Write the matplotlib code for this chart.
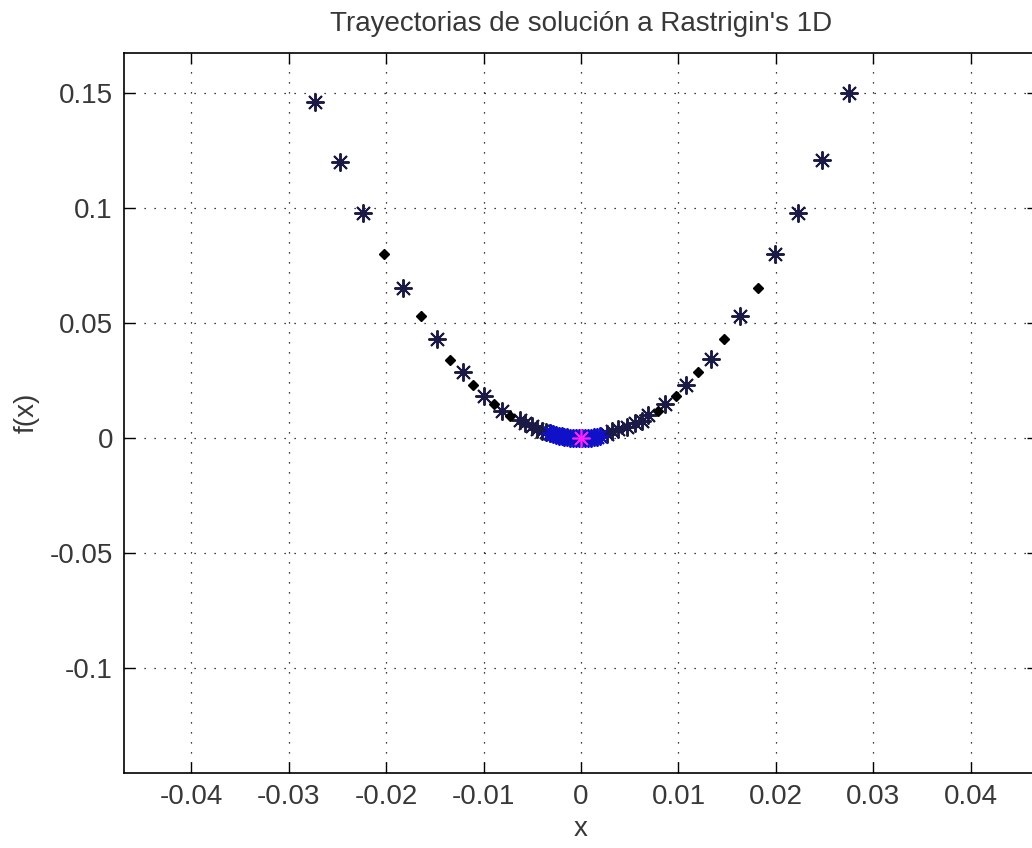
import numpy as np
import matplotlib
matplotlib.use("Agg")
import matplotlib.pyplot as plt

plt.rcParams['font.family'] = ['Liberation Sans', 'DejaVu Sans']

# trajectory points (asterisks)
star_x = [-0.0273, -0.0247, -0.0224, -0.0183, -0.0148, -0.0121, -0.0100, -0.0081,
          -0.0063, -0.0057, -0.0050, -0.0045, -0.0040, -0.0036, -0.0032,
          0.0275, 0.0247, 0.0223, 0.0199, 0.0163, 0.0133, 0.0108, 0.0086,
          0.0069, 0.0063, 0.0055, 0.0047, 0.0038, 0.0032, 0.0027]
star_y = [0.146, 0.120, 0.098, 0.065, 0.043, 0.0286, 0.0184, 0.0119,
          0.0078, 0.0064, 0.0050, 0.0040, 0.0032, 0.0026, 0.0020,
          0.150, 0.121, 0.098, 0.080, 0.053, 0.0345, 0.0230, 0.0148,
          0.0100, 0.0075, 0.0064, 0.0047, 0.0039, 0.0029, 0.0019]

# intermediate points (diamonds)
dia_x = [-0.0202, -0.0164, -0.0134, -0.0111, -0.0089, -0.0073,
         0.0182, 0.0147, 0.0120, 0.0097, 0.0079]
dia_y = [0.080, 0.053, 0.034, 0.0229, 0.0149, 0.0094,
         0.065, 0.043, 0.0286, 0.0184, 0.0119]

# last iterations around the minimum
end_x = [-0.0032, -0.0029, -0.0026, -0.0023, -0.0020, -0.0017, -0.0014, -0.0011,
         -0.0008, -0.0005, -0.0002, 0.0001, 0.0004, 0.0007, 0.0010, 0.0013,
         0.0016, 0.0019]
end_y = [0.0020, 0.0017, 0.0013, 0.0010, 0.0008, 0.0006, 0.0004, 0.0002,
         0.0001, 0.0001, 0.0000, 0.0000, 0.0000, 0.0001, 0.0002, 0.0003,
         0.0005, 0.0007]

best_x = [0.0]
best_y = [0.0]

xticks = [-0.04, -0.03, -0.02, -0.01, 0, 0.01, 0.02, 0.03, 0.04]
xticklabels = ['-0.04', '-0.03', '-0.02', '-0.01', '0', '0.01', '0.02', '0.03', '0.04']
yticks = [-0.1, -0.05, 0, 0.05, 0.1, 0.15]
yticklabels = ['-0.1', '-0.05', '0', '0.05', '0.1', '0.15']

txt = '#383838'

fig = plt.figure(figsize=(10.32, 8.48), dpi=100)
ax = fig.add_axes([0.1202, 0.0884, 0.8856, 0.8491])

ast = (8, 2, 0)
ax.plot(star_x, star_y, ls='none', marker=ast, ms=13, mew=1.4, color='#1a1a45', zorder=3)
ax.plot(dia_x, dia_y, ls='none', marker='D', ms=5, color='black', zorder=3)
ax.plot(end_x, end_y, ls='none', marker=ast, ms=13, mew=1.4, color='#1010c8', zorder=4)
ax.plot(best_x, best_y, ls='none', marker=ast, ms=13, mew=1.2, color='#ff22ff', zorder=5)

ax.set_xlim(-0.0469, 0.0469)
ax.set_ylim(-0.1457, 0.1674)
ax.set_xticks(xticks)
ax.set_xticklabels(xticklabels)
ax.set_yticks(yticks)
ax.set_yticklabels(yticklabels)

ax.grid(True, color='black', linestyle=(0, (1, 7)), linewidth=0.9)
ax.tick_params(direction='in', length=8, width=1, top=True, right=True,
               labelsize=20, pad=8, color='black', labelcolor=txt)
for s in ax.spines.values():
    s.set_linewidth(1.2)

ax.set_title("Trayectorias de solución a Rastrigin's 1D", fontsize=20, pad=16, color=txt)
ax.set_xlabel('x', fontsize=20, labelpad=4, color=txt)
ax.set_ylabel('f(x)', fontsize=20, labelpad=7, color=txt)

fig.savefig('out.png', dpi=100)
